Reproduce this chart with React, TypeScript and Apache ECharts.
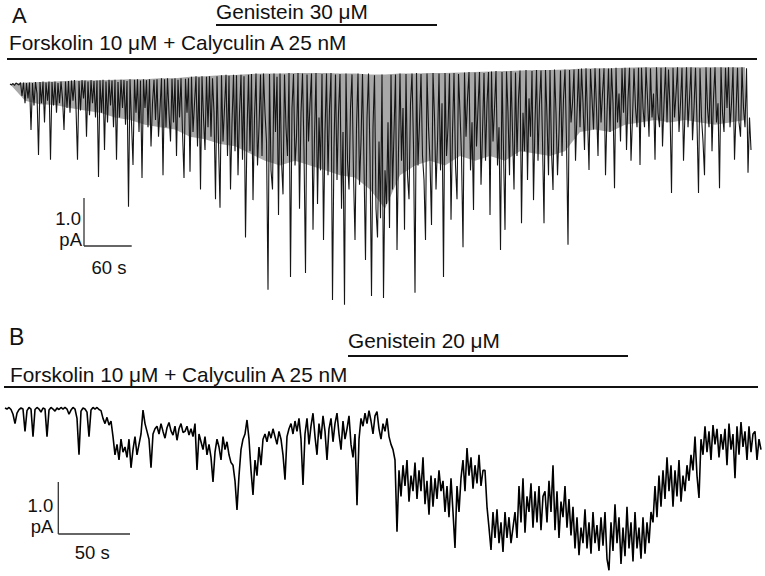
import React, { useEffect, useRef } from "react";
import * as echarts from "echarts";

// ---- Panel A: current trace (pA), one sample every dtA seconds ----
const dtA = 1.8866;
const traceA = [
  0.0, -0.02, 0.01, -0.03, 0.02, 0.0, -0.02, 0.03, -0.25, 0.03, -0.4, 0.02, -0.3, 0.03, -0.96, 0.02, -0.45, 0.04, -0.2, -1.48,
  0.04, -0.4, 0.05, -0.8, 0.03, -0.35, 0.05, -1.58, 0.04, -0.45, 0.05, -0.6, 0.02, -0.4, 0.05, -0.3, -0.96, 0.05, -0.5, 0.06,
  -0.6, 0.07, -0.35, 0.08, -0.5, -1.58, 0.06, -0.55, 0.08, -0.3, 0.07, -1.1, 0.05, -0.65, 0.08, -0.4, 0.06, -0.7, 0.07, -1.94,
  0.08, -0.6, 0.09, -1.375, 0.05, -0.8, 0.09, -0.45, 0.07, -0.9, 0.09, -1.58, 0.04, -0.7, 0.09, -0.5, 0.08, -0.85, 0.06, -2.56,
  0.1, -0.8, -1.69, 0.09, -0.6, 0.1, -1.0, 0.07, -1.96, 0.1, -0.5, 0.08, -0.9, 0.1, -1.3, -0.4, 0.09, -0.75, 0.1, -1.1,
  -0.5, 0.12, -1.9, 0.1, -0.9, 0.12, -0.6, -1.2, 0.11, -0.8, 0.12, -1.5, 0.09, -0.7, 0.12, -1.0, -1.96, 0.11, -0.6, 0.12,
  -1.83, 0.15, -1.0, -0.4, 0.16, -1.3, 0.14, -2.2, 0.16, -0.7, -1.375, 0.15, -0.9, 0.16, -1.1, 0.12, -0.6, -2.4, 0.16, -1.2,
  -2.58, 0.18, -1.2, -0.5, 0.19, -1.5, 0.17, -2.2, -0.8, 0.19, -1.4, 0.18, -1.9, -0.6, 0.19, -1.58, 0.16, -3.2, -1.0, 0.19,
  -1.4, 0.21, -2.42, -0.7, 0.22, -1.7, -0.9, 0.2, -1.5, 0.22, -0.6, -1.2, -4.29, 0.21, -1.8, -2.2, 0.22, -1.0, 0.15, -2.73,
  0.22, -1.6, -2.3, 0.2, -0.9, -1.5, 0.23, -4.02, -0.5, 0.21, -1.7, -1.1, 0.23, -2.6, -0.6, 0.22, -1.4, -3.94, 0.2, -1.2,
  -0.4, 0.22, -3.04, -1.1, 0.23, -2.5, -0.7, -1.8, 0.21, -3.25, -1.0, 0.22, -1.9, -0.5, 0.23, -4.5, -1.3, 0.2, -2.0, -0.6,
  0.21, -2.6, -1.0, -4.6, 0.22, -1.6, -2.2, -0.5, 0.2, -1.9, -3.25, -0.9, 0.22, -2.1, -1.2, 0.21, -1.7, -3.67, -0.7, 0.22,
  -1.5, -4.42, -0.9, 0.18, -2.6, -3.2, -1.2, -2.8, 0.2, -4.46, -1.8, -2.5, -0.8, -3.0, 0.19, -2.2, -1.0, 0.2, -3.46, -1.4,
  0.22, -1.6, -0.5, -3.04, 0.21, -1.9, -2.4, -0.4, 0.22, -1.3, -4.35, 0.23, -1.7, -0.8, 0.21, -1.5, -2.0, -3.25, 0.22, -0.9,
  -1.6, -2.94, 0.23, -0.7, -2.2, -1.2, 0.22, -1.8, -0.4, -4.02, 0.23, -1.5, -0.9, 0.22, -2.83, -1.0, 0.23, -1.7, -2.4, 0.21,
  -0.6, -1.5, -3.4, 0.24, -1.1, -0.3, 0.25, -1.8, -0.8, -2.625, 0.24, -1.3, -0.5, 0.25, -2.1, -1.0, 0.23, -1.6, -0.4, 0.25,
  -2.73, 0.26, -1.2, -0.5, 0.27, -1.7, -0.9, -3.46, 0.25, -1.4, -3.04, 0.26, -0.6, -1.9, 0.27, -1.0, -2.2, 0.24, -1.5, -0.3,
  0.28, -2.9, -0.6, -1.4, 0.29, -2.0, -0.3, -1.1, 0.27, -2.42, -0.8, 0.29, -1.6, -0.4, 0.28, -1.2, -2.9, 0.29, -0.7, -1.9,
  0.29, -1.4, -2.21, 0.3, -0.6, -1.9, -1.0, 0.28, -1.5, -0.3, 0.3, -1.2, -3.35, 0.29, -0.8, -0.4, 0.3, -1.6, -0.6, 0.31,
  -0.9, 0.32, -0.4, -1.375, 0.33, -0.7, -1.79, 0.31, -0.3, -0.95, 0.33, -0.5, -1.5, 0.32, -0.8, -0.2, 0.33, -1.9, -0.6, 0.32,
  -1.0, 0.33, -0.4, -2.17, 0.34, -0.8, -0.2, -1.2, 0.33, -0.6, 0.34, -1.375, -0.3, 0.34, -1.6, -0.7, 0.32, -0.5, -0.9, 0.34,
  -1.69, 0.34, -0.5, -0.9, 0.35, -0.3, -1.1, 0.33, -0.7, -0.2, -1.58, 0.35, -0.6, -0.9, 0.34, -1.3, -0.4, 0.35, -0.8, 0.3,
  -0.5, -2.27, 0.34, -0.7, -0.2, 0.35, -1.0, -0.4, 0.34, -1.6, -0.6, 0.35, -0.9, -0.3, 0.35, -1.17, -0.5, 0.34, -0.8, -2.27,
  0.33, -0.7, -1.2, -1.9, 0.35, -0.5, -0.9, 0.34, -1.4, -0.3, 0.35, -0.8, -0.4, -2.17, 0.35, -0.6, -1.0, 0.34, -0.5, 0.35,
  -0.9, -0.4, 0.35, -1.58, -0.6, 0.34, -0.8, -1.1, 0.35, -0.5, -0.9, 0.33, -1.85, -0.7, -1.375,
];

// ---- Panel A: envelope of the dense (unresolved) part of the record, every dtCoreA seconds ----
const dtCoreA = 18.866;
const coreTopA = [
  0.0, 0.03, 0.04, 0.05, 0.07, 0.08, 0.08, 0.09, 0.1, 0.1,
  0.12, 0.12, 0.15, 0.16, 0.18, 0.19, 0.21, 0.22, 0.22, 0.23,
  0.23, 0.23, 0.22, 0.22, 0.2, 0.2, 0.22, 0.22, 0.23, 0.23,
  0.24, 0.25, 0.26, 0.27, 0.28, 0.29, 0.29, 0.3, 0.32, 0.33,
  0.33, 0.34, 0.35, 0.35, 0.35, 0.35, 0.35, 0.35, 0.35, 0.35,
];
const coreBottomA = [
  0.0, -0.35, -0.42, -0.44, -0.5, -0.55, -0.6, -0.7, -0.75, -0.85,
  -0.9, -0.95, -1.1, -1.15, -1.25, -1.3, -1.45, -1.6, -1.7, -1.6,
  -1.7, -1.8, -1.9, -1.95, -2.2, -2.6, -1.9, -1.7, -1.6, -1.7,
  -1.5, -1.6, -1.5, -1.6, -1.4, -1.45, -1.5, -1.4, -1.0, -0.95,
  -1.0, -0.85, -0.8, -0.75, -0.8, -0.75, -0.8, -0.85, -0.8, -0.75,
];

// ---- Panel B: current trace (pA), one sample every dtB seconds ----
const dtB = 1.3947;
const traceB = [
  0.0, -0.02, 0.01, -0.03, -0.12, -0.3, -0.1, -0.03, 0.0, -0.02, -0.45, -0.05, 0.01, -0.02, -0.55,
  -0.03, 0.01, -0.02, -0.08, 0.0, -0.02, -0.55, -0.04, 0.01, -0.02, -0.06, 0.0, -0.03, 0.01, -0.02,
  0.01, -0.02, -0.12, -0.04, 0.01, -0.02, -0.2, -0.9, -0.06, 0.0, -0.02, -0.08, -0.55, -0.04, 0.01,
  -0.02, 0.01, -0.03, -0.05, -0.2, -0.3, -0.18, -0.33, -0.25, -0.55, -0.9, -0.7, -1.0, -0.6, -0.85,
  -0.75, -0.95, -0.6, -1.15, -0.8, -0.55, -0.9, -0.7, -0.5, -0.04, -0.3, -0.45, -0.6, -1.15, -0.5,
  -0.4, -0.35, -0.5, -0.3, -0.45, -0.58, -0.38, -0.28, -0.44, -0.52, -0.35, -0.62, -0.4, -0.3, -0.47,
  -0.45, -0.35, -0.52, -0.4, -0.55, -0.3, -1.19, -0.5, -0.65, -0.8, -0.55, -0.9, -0.7, -0.95, -1.42,
  -0.85, -0.6, -0.75, -1.0, -0.55, -0.8, -0.65, -0.9, -1.05, -1.1, -1.4, -1.96, -1.3, -0.8, -0.6,
  -0.5, -0.23, -0.6, -1.2, -1.67, -1.0, -1.3, -0.75, -1.1, -0.6, -0.5, -0.65, -0.45, -0.58, -0.4,
  -0.55, -0.7, -0.45, -0.6, -0.9, -1.38, -0.55, -0.4, -0.3, -0.5, -0.25, -0.45, -0.2, -0.6, -1.48,
  -0.5, -0.2, -0.7, -0.35, -0.1, -0.55, -0.9, -0.3, -0.6, -0.15, -0.45, -1.0, -0.4, -0.2, -0.65,
  -0.3, -0.1, -0.5, -0.8, -0.25, -0.6, -0.4, -0.15, -0.7, -0.95, -0.5, -1.87, -0.6, -0.2, -0.35,
  -0.1, -0.3, -0.05, -0.25, -0.5, -0.15, -0.07, -0.4, -0.6, -0.3, -0.45, -0.2, -0.55, -0.7, -0.8,
  -1.0, -2.38, -1.2, -1.7, -1.1, -1.5, -1.0, -1.8, -1.3, -1.6, -1.05, -1.75, -1.2, -1.6, -0.95,
  -1.85, -1.4, -2.05, -1.3, -1.9, -1.35, -1.75, -1.2, -1.6, -1.4, -2.0, -1.5, -2.1, -1.35, -2.0,
  -2.69, -1.5, -2.0, -1.35, -1.0, -1.6, -0.77, -1.3, -0.95, -1.55, -1.1, -1.45, -0.9, -1.5, -1.2,
  -1.2, -1.9, -2.3, -2.73, -2.0, -2.5, -1.95, -2.6, -2.2, -2.77, -2.0, -2.5, -2.1, -2.6, -2.3,
  -2.0, -2.5, -1.5, -2.2, -1.35, -2.4, -1.7, -2.0, -1.45, -2.3, -1.6, -2.2, -1.5, -2.35, -1.7,
  -1.6, -2.2, -1.4, -2.0, -1.1, -2.35, -1.6, -2.5, -1.8, -2.1, -1.5, -2.3, -1.75, -2.45, -1.9,
  -2.7, -2.1, -2.83, -2.3, -2.6, -1.95, -2.7, -2.2, -2.8, -2.0, -2.6, -2.25, -2.75, -2.1, -2.65,
  -2.0, -2.9, -3.12, -2.2, -2.75, -1.85, -2.6, -2.1, -3.0, -2.3, -2.85, -1.9, -2.7, -2.2, -2.95,
  -2.0, -2.7, -2.3, -2.9, -2.1, -2.8, -2.2, -2.6, -2.0, -2.2, -1.5, -2.1, -1.3, -1.9, -1.2,
  -1.75, -0.95, -1.6, -1.1, -1.9, -1.2, -1.7, -1.0, -1.8, -1.3, -1.6, -1.1, -1.4, -0.9, -1.2,
  -0.55, -1.3, -1.73, -0.6, -0.9, -0.35, -0.85, -0.45, -1.0, -0.33, -0.7, -0.4, -0.95, -0.5, -0.8,
  -0.4, -1.1, -0.3, -0.8, -0.5, -1.35, -0.35, -0.9, -0.27, -0.75, -0.45, -1.0, -0.35, -0.85, -0.5,
  -0.45, -1.0, -0.6, -0.8,
];

// ---- Labels ----
const panelLabels = ["A", "B"];
const genisteinLabels = ["Genistein 30 \u03bcM", "Genistein 20 \u03bcM"];
const baseLabel = "Forskolin 10 \u03bcM + Calyculin A 25 nM";
const scaleCurrent = [1.0, 1.0]; // pA
const scaleTime = [60, 50]; // s

// axis extents
const axA = { xMax: 937, yMin: -4.71, yMax: 0.5 };
const axB = { xMax: 527.9, yMin: -3.2115, yMax: 0.25 };
const gridA = { left: 10, top: 60, width: 745, height: 250 };
const gridB = { left: 5, top: 395, width: 757, height: 180 };

const FONT = "'Liberation Sans', Arial, Helvetica, sans-serif";
const INK = "#111";

function txt(text: string, x: number, baseline: number, size: number, align: string = "left") {
  return {
    type: "text",
    silent: true,
    style: {
      text,
      x,
      y: baseline - 0.3465 * size,
      fontSize: size,
      fontFamily: FONT,
      fill: INK,
      textAlign: align,
      textVerticalAlign: "middle",
    },
  };
}

function hline(x1: number, x2: number, y: number, w: number, color: string = "#111") {
  return { type: "line", silent: true, shape: { x1, y1: y, x2, y2: y }, style: { stroke: color, lineWidth: w } };
}
function vline(x: number, y1: number, y2: number, w: number, color: string = "#111") {
  return { type: "line", silent: true, shape: { x1: x, y1, x2: x, y2 }, style: { stroke: color, lineWidth: w } };
}

function scaleBar(x0: number, y0: number, pxPerPA: number, pxPerSec: number, cur: number, sec: number, idx: number) {
  const h = cur * pxPerPA;
  const w = sec * pxPerSec;
  const items: any[] = [];
  items.push(vline(x0, y0 - h, y0, 1.3, "#333"));
  items.push(hline(x0, x0 + w, y0, 1.3, "#333"));
  const curLabel = cur.toFixed(1);
  if (idx === 0) {
    items.push(txt(curLabel, x0 - 3, y0 - 21, 18.5, "right"));
    items.push(txt("pA", x0 - 2, y0, 18.5, "right"));
    items.push(txt(`${sec} s`, x0 + 25, y0 + 28, 18.5, "center"));
  } else {
    items.push(txt(curLabel, x0 - 5, y0 - 22, 18.5, "right"));
    items.push(txt("pA", x0 - 5, y0 - 1, 18.5, "right"));
    items.push(txt(`${sec} s`, x0 + 34, y0 + 25, 18.5, "center"));
  }
  return items;
}

function envelopeSeries(top: number[], bottom: number[], dt: number, axisIndex: number, fill: string) {
  const data = top.map((v, k) => [k * dt, v, bottom[k]]);
  return {
    type: "custom",
    xAxisIndex: axisIndex,
    yAxisIndex: axisIndex,
    silent: true,
    z: 1,
    data,
    renderItem: (params: any, api: any) => {
      if (params.dataIndex !== 0) return null;
      const upper = data.map((d) => api.coord([d[0], d[1]]));
      const lower = data.map((d) => api.coord([d[0], d[2]])).reverse();
      return {
        type: "polygon",
        shape: { points: upper.concat(lower) },
        style: { fill, stroke: "none" },
      };
    },
  };
}

export default function App() {
  const ref = useRef<HTMLDivElement>(null);
  useEffect(() => {
    document.body.style.margin = "0";
    if (!ref.current) return;
    const chart = echarts.init(ref.current, undefined, { renderer: "svg" });

    const pxPerPA_A = gridA.height / (axA.yMax - axA.yMin);
    const pxPerSec_A = gridA.width / axA.xMax;
    const pxPerPA_B = gridB.height / (axB.yMax - axB.yMin);
    const pxPerSec_B = gridB.width / axB.xMax;

    const graphic: any[] = [
      txt(panelLabels[0], 12, 22.7, 22),
      txt(genisteinLabels[0], 216, 18.8, 20.8),
      hline(216, 437, 25, 2),
      txt(baseLabel, 9, 50, 20.8),
      hline(7, 757, 59, 2),
      ...scaleBar(84, 246, pxPerPA_A, pxPerSec_A, scaleCurrent[0], scaleTime[0], 0),

      txt(panelLabels[1], 9, 345, 23),
      txt(genisteinLabels[1], 348, 348, 20.8),
      hline(348, 628, 356, 2),
      txt(baseLabel, 10, 382, 20.8),
      hline(4, 758, 387, 2),
      ...scaleBar(58.3, 534, pxPerPA_B, pxPerSec_B, scaleCurrent[1], scaleTime[1], 1),
    ];

    chart.setOption({
      animation: false,
      backgroundColor: "#fff",
      grid: [
        { ...gridA, containLabel: false },
        { ...gridB, containLabel: false },
      ],
      xAxis: [
        { gridIndex: 0, type: "value", min: 0, max: axA.xMax, show: false },
        { gridIndex: 1, type: "value", min: 0, max: axB.xMax, show: false },
      ],
      yAxis: [
        { gridIndex: 0, type: "value", min: axA.yMin, max: axA.yMax, show: false },
        { gridIndex: 1, type: "value", min: axB.yMin, max: axB.yMax, show: false },
      ],
      series: [
        envelopeSeries(coreTopA, coreBottomA, dtCoreA, 0, "rgba(25,25,25,0.38)"),
        {
          type: "line",
          xAxisIndex: 0,
          yAxisIndex: 0,
          z: 2,
          data: traceA.map((v, i) => [i * dtA, v]),
          showSymbol: false,
          lineStyle: { color: "#151515", width: 1.1, join: "bevel" },
          silent: true,
        },
        {
          type: "line",
          xAxisIndex: 1,
          yAxisIndex: 1,
          z: 2,
          data: traceB.map((v, i) => [i * dtB, v]),
          showSymbol: false,
          lineStyle: { color: "#000", width: 1.6, join: "bevel" },
          silent: true,
        },
      ],
      graphic,
    });
    return () => chart.dispose();
  }, []);
  return <div ref={ref} style={{ width: 765, height: 576 }} />;
}
